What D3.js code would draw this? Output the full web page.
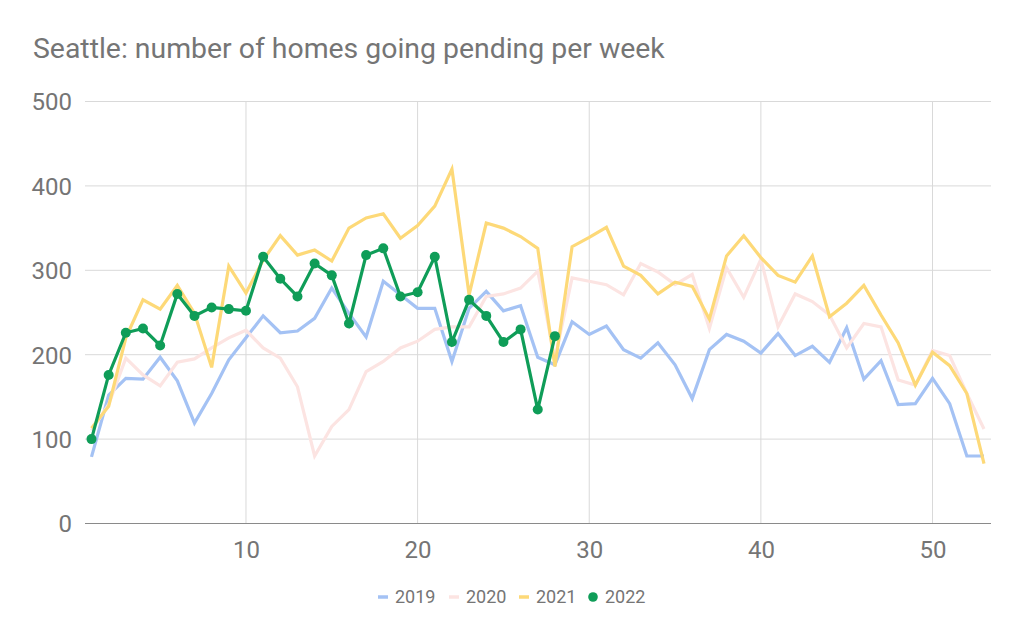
<!DOCTYPE html>
<html>
<head>
<meta charset="utf-8">
<script src="https://cdn.jsdelivr.net/npm/d3@7"></script>
<style>
html,body{margin:0;padding:0;background:#fff;}
svg{display:block;font-family:Roboto, "Noto Sans", sans-serif;}
</style>
</head>
<body>
<svg id="chart" width="1024" height="641"></svg>
<script>
const title = "Seattle: number of homes going pending per week";
const weeks = d3.range(1, 54);
const seriesNames = ["2019", "2020", "2021", "2022"];
const y2019 = [79,152,172,171,197,169,119,154,194,220,
  246,226,228,243,279,249,221,287,271,255,
  255,192,255,275,252,258,197,188,239,224,
  234,206,196,214,188,148,206,224,216,202,
  225,199,210,191,232,171,193,141,142,172,
  142,80,80];
const y2020 = [110,141,196,176,163,191,195,208,220,229,
  208,196,162,80,115,135,180,192,208,216,
  230,233,233,269,272,279,299,195,291,287,
  283,271,308,298,283,295,231,303,268,313,
  233,272,263,247,208,237,233,170,164,205,
  199,154,112];
const y2021 = [113,139,220,265,254,282,249,185,305,273,
  312,341,318,324,311,350,362,367,338,353,
  376,420,271,356,350,340,326,186,328,339,
  351,305,294,272,286,281,242,317,341,315,
  294,286,317,245,261,282,247,214,164,203,
  187,154,71];
const y2022 = [100,176,226,231,211,272,246,256,254,252,
  316,290,269,308,294,237,318,326,269,274,
  316,215,265,246,215,230,135,222];
const xTicks = [10,20,30,40,50];
const yTicks = [0,100,200,300,400,500];

const svg = d3.select("#chart");
const x = d3.scaleLinear().domain([1,53]).range([91.5,984]);
const y = d3.scaleLinear().domain([0,500]).range([523.5,101.5]);
const gridLeft = 85, gridRight = 991;
const textColor = "#757575";

svg.append("text").attr("x",33).attr("y",58)
  .attr("font-size",28.4).attr("fill",textColor).text(title);

// horizontal gridlines
svg.append("g").selectAll("line").data(yTicks.filter(d=>d>0)).join("line")
  .attr("x1",gridLeft).attr("x2",gridRight)
  .attr("y1",d=>y(d)).attr("y2",d=>y(d))
  .attr("stroke","#d9d9d9").attr("stroke-width",1);
// vertical gridlines
svg.append("g").selectAll("line").data(xTicks).join("line")
  .attr("x1",d=>x(d)).attr("x2",d=>x(d))
  .attr("y1",y(500)).attr("y2",y(0))
  .attr("stroke","#d9d9d9").attr("stroke-width",1);
// baseline
svg.append("line").attr("x1",gridLeft).attr("x2",gridRight)
  .attr("y1",y(0)).attr("y2",y(0)).attr("stroke","#8a8a8a").attr("stroke-width",1.2);

// y axis labels
const yAxis = d3.axisLeft(y).tickValues(yTicks).tickSize(0).tickPadding(0);
const gy = svg.append("g").attr("transform","translate(72,0)").call(yAxis);
gy.select(".domain").remove();
gy.selectAll("text").attr("font-size",24).attr("fill",textColor)
  .attr("font-family","Roboto, sans-serif").attr("dy","0.35em");

// x axis labels
const xAxis = d3.axisBottom(x).tickValues(xTicks).tickSize(0).tickPadding(0);
const gx = svg.append("g").attr("transform","translate(0,541)").call(xAxis);
gx.select(".domain").remove();
gx.selectAll("text").attr("font-size",24).attr("fill",textColor)
  .attr("font-family","Roboto, sans-serif").attr("dy","0.71em");

const line = d3.line().x((d,i)=>x(weeks[i])).y(d=>y(d));
const styles = [
  {data:y2019, color:"#a4c2f4", w:3.2},
  {data:y2020, color:"#fce4e2", w:3.2},
  {data:y2021, color:"#fdd978", w:3.2},
  {data:y2022, color:"#0f9d58", w:3.2}
];
styles.forEach(s=>{
  svg.append("path").datum(s.data).attr("d",line)
    .attr("fill","none").attr("stroke",s.color).attr("stroke-width",s.w)
    .attr("stroke-linejoin","miter").attr("stroke-linecap","butt");
});
svg.append("g").selectAll("circle").data(y2022).join("circle")
  .attr("cx",(d,i)=>x(weeks[i])).attr("cy",d=>y(d)).attr("r",5)
  .attr("fill","#0f9d58");

// legend
const legendX = [378, 449, 519, 588];
const legend = svg.append("g");
seriesNames.forEach((name,i)=>{
  const g = legend.append("g").attr("transform",`translate(${legendX[i]},597)`);
  if (i < 3) {
    g.append("line").attr("x1",0).attr("x2",10).attr("y1",0).attr("y2",0)
      .attr("stroke",styles[i].color).attr("stroke-width",3.5);
  } else {
    g.append("circle").attr("cx",5).attr("cy",0).attr("r",4.8).attr("fill",styles[i].color);
  }
  g.append("text").attr("x",17).attr("y",0).attr("dy","0.35em")
    .attr("font-size",18).attr("fill",textColor).text(name);
});
</script>
</body>
</html>
